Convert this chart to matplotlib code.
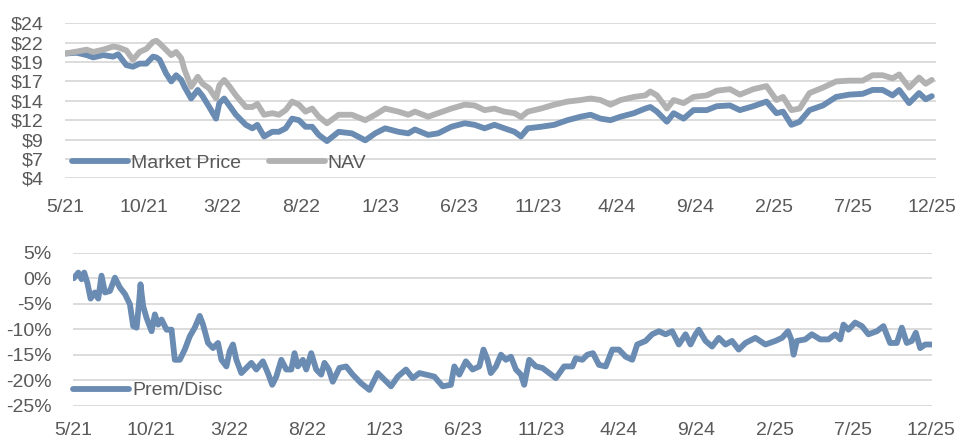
import numpy as np
import matplotlib
matplotlib.use("Agg")
import matplotlib.pyplot as plt

plt.rcParams['font.family'] = ['Liberation Sans', 'DejaVu Sans']
plt.rcParams['text.parse_math'] = False

# months since 5/21
price_months = [0.0, 0.74, 1.37, 1.79, 2.42, 3.05, 3.37, 3.89, 4.31, 4.73, 5.16, 5.58, 5.79, 6.0,
                6.42, 6.74, 7.05, 7.37, 7.58, 8.0, 8.42, 8.73, 9.15, 9.58, 9.79, 10.1, 10.42, 10.84,
                11.47, 11.89, 12.2, 12.63, 13.15, 13.57, 14.0, 14.41, 14.84, 15.26, 15.68, 16.1, 16.62,
                17.36, 18.2, 19.05, 19.68, 20.31, 21.15, 21.78, 22.2, 23.04, 23.67, 24.51, 25.36, 25.99,
                26.62, 27.25, 27.88, 28.52, 28.93, 29.36, 30.2, 31.04, 31.88, 32.72, 33.35, 33.98, 34.61,
                35.25, 36.09, 36.82, 37.14, 37.56, 38.19, 38.62, 39.25, 39.88, 40.72, 41.35, 42.19, 42.82,
                43.67, 44.51, 45.14, 45.56, 46.09, 46.61, 47.24, 48.09, 48.93, 49.77, 50.61, 51.24, 51.88,
                52.51, 52.93, 53.56, 54.19, 54.61, 55.0]
market_price = [20.1, 20.2, 19.9, 19.6, 19.9, 19.7, 20.0, 18.6, 18.4, 18.8, 18.8, 19.7, 19.6, 19.3,
                17.5, 16.5, 17.3, 16.7, 15.8, 14.3, 15.4, 14.6, 13.2, 11.7, 13.7, 14.3, 13.4, 12.2,
                10.9, 10.45, 10.9, 9.4, 10.0, 10.0, 10.45, 11.7, 11.5, 10.65, 10.65, 9.6, 8.8,
                10.0, 9.8, 8.9, 9.8, 10.45, 10.0, 9.8, 10.3, 9.6, 9.8, 10.65, 11.1, 10.9,
                10.45, 10.9, 10.45, 10.0, 9.4, 10.45, 10.65, 10.9, 11.5, 11.95, 12.2, 11.7, 11.5,
                11.95, 12.4, 13.0, 13.2, 12.6, 11.3, 12.4, 11.7, 12.8, 12.8, 13.3, 13.4, 12.8,
                13.3, 13.9, 12.4, 12.6, 10.9, 11.3, 12.8, 13.4, 14.5, 14.8, 14.9, 15.4, 15.4,
                14.7, 15.4, 13.7, 15.0, 14.2, 14.6]
nav = [20.1, 20.35, 20.6, 20.3, 20.6, 21.0, 20.9, 20.5, 19.3, 20.3, 20.7, 21.6, 21.75, 21.4,
       20.55, 19.9, 20.3, 19.5, 18.0, 15.8, 17.1, 16.2, 15.6, 14.3, 16.0, 16.7, 15.9, 14.7,
       13.2, 13.2, 13.6, 12.2, 12.4, 12.2, 12.8, 13.9, 13.5, 12.6, 13.0, 11.95, 11.1,
       12.2, 12.2, 11.5, 12.2, 13.0, 12.6, 12.2, 12.6, 11.95, 12.4, 13.0, 13.5, 13.4,
       12.8, 13.0, 12.6, 12.4, 11.9, 12.6, 13.0, 13.5, 13.9, 14.1, 14.3, 14.1, 13.5,
       14.1, 14.5, 14.7, 15.2, 14.7, 13.0, 14.1, 13.7, 14.5, 14.7, 15.3, 15.5, 14.8,
       15.5, 15.9, 14.1, 14.5, 12.8, 13.0, 15.0, 15.7, 16.5, 16.6, 16.6, 17.3, 17.3,
       16.9, 17.4, 15.7, 17.0, 16.2, 16.7]

disc_months = [0.06, 0.34, 0.55, 0.72, 0.92, 1.13, 1.4, 1.62, 1.83, 2.05, 2.37, 2.69, 3.0, 3.33,
               3.65, 3.86, 4.08, 4.25, 4.33, 4.5, 4.72, 5.04, 5.25, 5.46, 5.68, 6.0, 6.32, 6.53,
               6.85, 7.17, 7.49, 7.81, 8.13, 8.34, 8.66, 8.98, 9.3, 9.52, 9.84, 10.05, 10.26, 10.48,
               10.8, 11.12, 11.44, 11.76, 12.18, 12.5, 12.78, 13.04, 13.36, 13.68, 14.0, 14.21, 14.42,
               14.74, 14.96, 15.28, 15.6, 15.92, 16.13, 16.41, 16.66, 17.09, 17.52, 17.94, 18.48,
               19.01, 19.55, 19.97, 20.4, 20.83, 21.36, 21.79, 22.22, 22.64, 23.18, 23.71, 24.24,
               24.46, 24.78, 25.2, 25.63, 26.06, 26.33, 26.59, 26.8, 27.13, 27.45, 27.77, 28.09,
               28.41, 28.73, 28.94, 29.26, 29.69, 30.11, 30.54, 30.97, 31.5, 32.03, 32.25, 32.67,
               32.99, 33.35, 33.74, 34.17, 34.59, 35.02, 35.45, 35.87, 36.19, 36.73, 37.15, 37.58,
               38.01, 38.43, 38.86, 39.29, 39.61, 39.93, 40.14, 40.57, 40.99, 41.42, 41.85, 42.27,
               42.7, 43.13, 43.77, 44.41, 45.05, 45.48, 45.86, 46.07, 46.22, 46.43, 46.97, 47.39,
               47.93, 48.46, 48.89, 49.21, 49.42, 49.74, 50.17, 50.6, 51.02, 51.56, 51.98, 52.41,
               52.84, 53.16, 53.48, 53.8, 54.06, 54.34, 54.66, 55.06]
prem_disc = [0.0, 1.1, -0.2, 1.1, -0.9, -4.0, -2.8, -4.0, 0.5, -2.8, -2.5, 0.1, -1.8, -3.1,
             -5.1, -9.4, -9.7, -4.3, -1.2, -5.5, -7.8, -10.4, -7.1, -9.1, -8.1, -10.1, -10.1, -16.0,
             -16.0, -14.0, -11.4, -9.7, -7.4, -9.1, -12.7, -13.7, -12.7, -16.0, -17.3, -14.3, -13.0, -16.0,
             -18.6, -17.6, -16.6, -17.9, -16.3, -18.6, -20.9, -19.3, -16.0, -17.9, -17.9, -14.7, -17.3,
             -16.0, -17.9, -14.7, -17.9, -18.9, -16.6, -17.9, -20.3, -17.6, -17.3, -18.9, -20.6,
             -21.9, -18.6, -19.9, -21.2, -19.3, -17.9, -19.6, -18.6, -18.9, -19.3, -21.2, -20.9,
             -17.3, -18.9, -16.3, -17.9, -17.3, -14.0, -16.0, -18.6, -17.3, -15.0, -16.0, -15.4,
             -17.9, -18.9, -20.9, -16.0, -17.3, -17.6, -18.6, -19.6, -17.3, -17.3, -15.7, -16.0,
             -15.0, -14.7, -17.0, -17.3, -14.0, -14.0, -15.4, -16.0, -13.0, -12.3, -11.0, -10.4,
             -11.0, -10.4, -13.0, -11.0, -13.0, -11.0, -10.1, -12.3, -13.4, -11.7, -13.0, -12.3,
             -14.0, -12.7, -11.7, -13.0, -12.3, -11.7, -10.4, -12.0, -15.0, -12.3, -12.0, -11.0,
             -12.0, -12.0, -11.0, -12.0, -9.1, -10.1, -8.7, -9.4, -11.0, -10.4, -9.4, -12.7,
             -12.7, -9.7, -12.7, -12.3, -10.7, -13.7, -13.0, -13.0]

tick_months = [0, 5, 10, 15, 20, 25, 30, 35, 40, 45, 50, 55]
tick_labels = ['5/21', '10/21', '3/22', '8/22', '1/23', '6/23', '11/23', '4/24', '9/24', '2/25', '7/25', '12/25']
price_ticks = [4, 6.5, 9, 11.5, 14, 16.5, 19, 21.5, 24]
price_labels = ['$4', '$7', '$9', '$12', '$14', '$17', '$19', '$22', '$24']
pct_ticks = [-25, -20, -15, -10, -5, 0, 5]
pct_labels = ['-25%', '-20%', '-15%', '-10%', '-5%', '0%', '5%']

blue = '#6a8bb2'
gray = '#b2b2b2'
txt = '#595959'
grid = '#d9d9d9'
fs = 14

fig = plt.figure(figsize=(9.58, 4.43), dpi=100)
ax1 = fig.add_axes([0.0679, 0.5975, 0.9092, 0.3499])
ax2 = fig.add_axes([0.0762, 0.0842, 0.8967, 0.3454])

ax1.plot(price_months, market_price, color=blue, lw=4.2, label='Market Price', solid_capstyle='round')
ax1.plot(price_months, nav, color=gray, lw=4.2, label='NAV', solid_capstyle='round')
ax1.set_ylim(4, 24)
ax1.set_xlim(0, 55.27)
ax1.set_yticks(price_ticks)
ax1.set_yticklabels(price_labels)

ax2.plot(disc_months, prem_disc, color=blue, lw=4.2, label='Prem/Disc', solid_capstyle='round')
ax2.set_ylim(-25, 5)
ax2.set_xlim(0, 55.1)
ax2.set_yticks(pct_ticks)
ax2.set_yticklabels(pct_labels)

for ax, xpad in ((ax1, 15), (ax2, 12)):
    ax.set_xticks(tick_months)
    ax.set_xticklabels(tick_labels)
    for s in ax.spines.values():
        s.set_visible(False)
    ax.grid(axis='y', color=grid, lw=1.3)
    ax.set_axisbelow(True)
    ax.tick_params(axis='y', length=0, pad=15.5, labelsize=fs, labelcolor=txt)
    ax.tick_params(axis='x', length=0, pad=xpad, labelsize=fs, labelcolor=txt)

leg_kw = dict(frameon=False, loc='center left', borderpad=0, borderaxespad=0,
              handlelength=2.9, handletextpad=0.15, fontsize=fs, labelcolor=txt)
ax1.legend(ncol=2, columnspacing=1.4, bbox_to_anchor=(0.008, 0.097), **leg_kw)
ax2.legend(bbox_to_anchor=(0.0, 0.099), **leg_kw)

fig.savefig('out.png', dpi=100)
